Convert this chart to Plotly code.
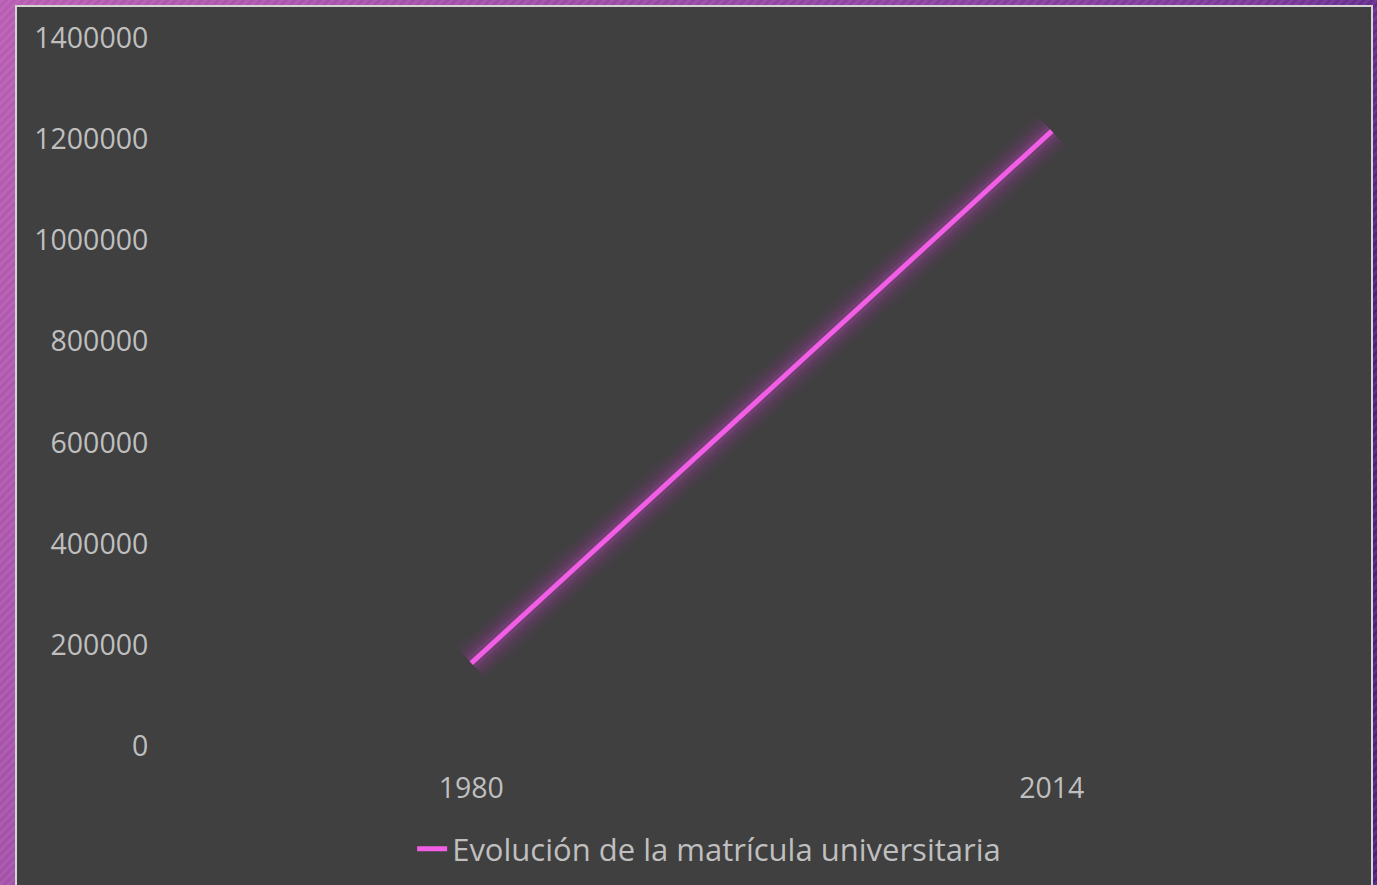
import base64
import plotly.graph_objects as go

years = ["1980", "2014"]
matricula = [164000, 1216000]
y_ticks = [0, 200000, 400000, 600000, 800000, 1000000, 1200000, 1400000]
series_name = "Evolución de la matrícula universitaria"

W, H = 1377, 885
L, R, T, B = 181, 1342, 38, 746  # plot area in pixels

svg = f'''<svg xmlns="http://www.w3.org/2000/svg" width="{W}" height="{H}" viewBox="0 0 {W} {H}">
<defs>
<linearGradient id="g" x1="0" y1="0" x2="1" y2="0.3">
<stop offset="0" stop-color="#b85db2"/>
<stop offset="0.85" stop-color="#7a3798"/>
<stop offset="1" stop-color="#4c1f7e"/>
</linearGradient>
<pattern id="p" width="6" height="6" patternUnits="userSpaceOnUse" patternTransform="rotate(45)">
<rect width="3" height="6" fill="#ffffff" fill-opacity="0.07"/>
</pattern>
</defs>
<rect width="{W}" height="{H}" fill="url(#g)"/>
<rect width="{W}" height="{H}" fill="url(#p)"/>
<rect x="16" y="6" width="1356" height="900" fill="#404040" stroke="#d4d4d4" stroke-width="2"/>
</svg>'''
src = "data:image/svg+xml;base64," + base64.b64encode(svg.encode("utf-8")).decode("ascii")

pw, ph = R - L, B - T

fig = go.Figure()
glow = [(44, "rgba(165,50,165,0.05)"), (36, "rgba(170,55,170,0.07)"), (28, "rgba(175,60,175,0.09)"),
        (20, "rgba(185,65,185,0.12)"), (13, "rgba(200,75,200,0.16)")]
for w, c in glow:
    fig.add_trace(go.Scatter(x=years, y=matricula, mode="lines", line=dict(color=c, width=w),
                             showlegend=False, hoverinfo="skip"))
fig.add_trace(go.Scatter(x=years, y=matricula, mode="lines", name=series_name,
                         line=dict(color="#f25ee6", width=5)))

fig.add_layout_image(dict(source=src, xref="paper", yref="paper",
                          x=-L / pw, y=B / ph, sizex=W / pw, sizey=H / ph,
                          xanchor="left", yanchor="top", sizing="stretch", layer="below"))

font = "Open Sans"
tick_font = dict(family=font, size=28.5, color="#bfbfbf")
fig.update_layout(
    width=W, height=H,
    margin=dict(l=L, r=W - R, t=T, b=H - B, pad=0),
    paper_bgcolor="rgba(0,0,0,0)",
    plot_bgcolor="rgba(0,0,0,0)",
    font=dict(family=font, size=28.5, color="#bfbfbf"),
    xaxis=dict(type="category", range=[-0.5, 1.5], showgrid=False, zeroline=False, showline=False,
               ticks="outside", ticklen=17, tickcolor="rgba(0,0,0,0)", tickfont=tick_font),
    yaxis=dict(range=[0, 1400000], tickvals=y_ticks, ticktext=[str(v) for v in y_ticks],
               showgrid=False, zeroline=False, showline=False,
               ticks="outside", ticklen=26, tickcolor="rgba(0,0,0,0)", tickfont=tick_font),
    legend=dict(orientation="h", xref="container", yref="container", x=0.515, y=1 - 849 / H,
                xanchor="center", yanchor="middle", bgcolor="rgba(0,0,0,0)",
                font=dict(family=font, size=31, color="#bfbfbf")),
    showlegend=True,
)

fig.write_html("out.html", config={"displayModeBar": False},
               post_script="document.body.style.margin='0';document.body.style.overflow='hidden';")
